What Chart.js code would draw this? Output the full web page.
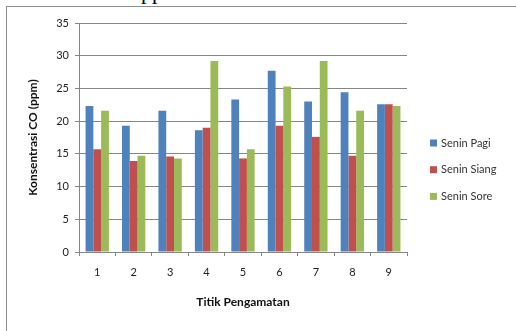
<!DOCTYPE html>
<html>
<head>
<meta charset="utf-8">
<script src="https://cdn.jsdelivr.net/npm/chart.js@4"></script>
<style>
  html, body { margin: 0; padding: 0; background: #fff; }
  #wrap { position: relative; width: 516px; height: 331px; overflow: hidden; }
  #frame { position: absolute; left: 6px; top: 6px; width: 520px; height: 340px;
           border-left: 1px solid #8e8e8e; border-top: 1px solid #8e8e8e; }
  #above { position: absolute; left: 141px; top: -21px; font: 22px "Liberation Serif", serif; color: #000; }
  canvas { position: absolute; left: 0; top: 0; }
</style>
</head>
<body>
<div id="wrap">
  <div id="above">pp</div>
  <div id="frame"></div>
  <canvas id="c" width="516" height="331"></canvas>
</div>
<script>
// Kadar CO per titik pengamatan, hari Senin
const titik = ['1', '2', '3', '4', '5', '6', '7', '8', '9'];
const seninPagi  = [22.3, 19.3, 21.6, 18.6, 23.3, 27.7, 23.0, 24.4, 22.6];
const seninSiang = [15.7, 13.9, 14.6, 19.0, 14.3, 19.3, 17.6, 14.7, 22.6];
const seninSore  = [21.6, 14.7, 14.3, 29.2, 15.7, 25.3, 29.2, 21.6, 22.3];
const seriesNames = ['Senin Pagi', 'Senin Siang', 'Senin Sore'];
const yTicks = [0, 5, 10, 15, 20, 25, 30, 35];

const FONT = 'Lato, "Liberation Sans", sans-serif';

// Legend drawn at the right side, from the dataset labels and colours
const sideLegend = {
  id: 'sideLegend',
  afterDraw(chart) {
    const ctx = chart.ctx;
    ctx.save();
    ctx.font = '11px ' + FONT;
    ctx.textBaseline = 'middle';
    ctx.textAlign = 'left';
    chart.data.datasets.forEach((ds, i) => {
      const cy = 143 + i * 26.7;
      ctx.fillStyle = ds.backgroundColor;
      ctx.fillRect(430, cy - 3.5, 7, 7);
      ctx.fillStyle = '#333';
      ctx.fillText(ds.label, 441, cy);
    });
    ctx.restore();
  }
};

new Chart(document.getElementById('c'), {
  type: 'bar',
  data: {
    labels: titik,
    datasets: [
      { label: seriesNames[0], data: seninPagi,  backgroundColor: '#4F81BD' },
      { label: seriesNames[1], data: seninSiang, backgroundColor: '#C0504D' },
      { label: seriesNames[2], data: seninSore,  backgroundColor: '#9BBB59' }
    ]
  },
  options: {
    responsive: false,
    animation: false,
    events: [],
    layout: { padding: { left: 0, top: 23, right: 109, bottom: 0 } },
    datasets: { bar: { barPercentage: 1, categoryPercentage: 0.64 } },
    plugins: { legend: { display: false }, tooltip: { enabled: false } },
    scales: {
      x: {
        afterFit(scale) { scale.height = 79; },
        grid: { display: true, drawOnChartArea: false, drawTicks: true, tickLength: 4, color: '#868686', offset: true },
        border: { display: true, color: '#868686' },
        ticks: { color: '#222', font: { family: FONT, size: 11 }, padding: 10, maxRotation: 0 },
        title: { display: true, text: 'Titik Pengamatan', color: '#111',
                 font: { family: FONT, size: 12, weight: 'bold' }, padding: { top: 0, bottom: 22 } }
      },
      y: {
        min: 0, max: 35,
        afterFit(scale) { scale.width = 79; },
        afterBuildTicks(scale) { scale.ticks = yTicks.map(v => ({ value: v })); },
        grid: { color: '#868686', tickLength: 4 },
        border: { display: true, color: '#868686' },
        ticks: { color: '#222', font: { family: FONT, size: 11 }, padding: 6 },
        title: { display: true, text: 'Konsentrasi CO (ppm)', color: '#111',
                 font: { family: FONT, size: 12, weight: 'bold' }, padding: { top: 26, bottom: 0 } }
      }
    }
  },
  plugins: [sideLegend]
});
</script>
</body>
</html>
